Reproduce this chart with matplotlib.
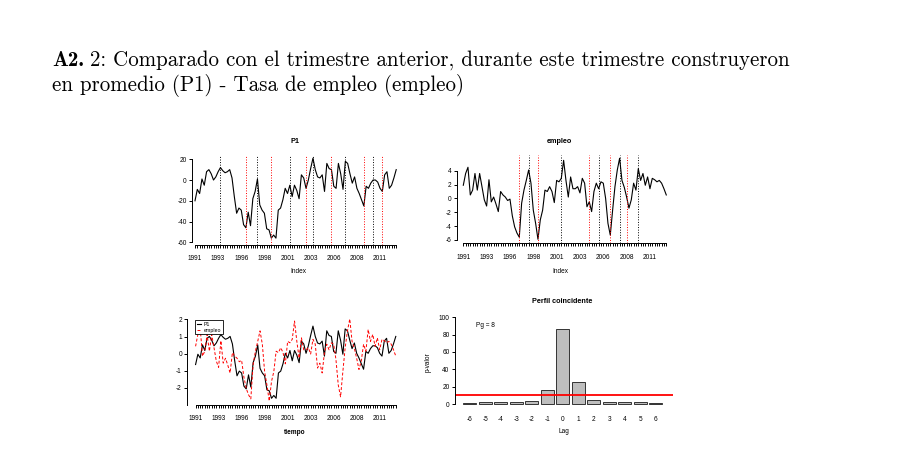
import numpy as np
import matplotlib
matplotlib.use("Agg")
import matplotlib.pyplot as plt

plt.rcParams['font.family'] = ['Liberation Sans', 'DejaVu Sans']
plt.rcParams['axes.unicode_minus'] = False

W, H = 898, 463

# Quarterly series, 1991Q1 - 2012Q4
p1 = [-20, -9, -13, 1, -5, 8, 10, 6, 0, 3,
      8, 12, 9, 7, 8, 10, 2, -16, -32, -27,
      -29, -43, -46, -31, -44, -18, -11, 1, -24, -29,
      -32, -47, -48, -56, -53, -56, -29, -27, -19, -8,
      -13, -5, -16, -5, -10, -18, 5, 2, -8, 0,
      11, 21, 10, 3, 2, 5, -11, 16, 11, 10,
      -6, -8, 16, 6, -9, 18, 16, 6, -3, 3,
      -8, -13, -19, -25, -6, -8, -3, 0, 0, -2,
      -8, -11, 5, 8, -8, -5, 2, 10]
empleo = [1.9, 3.6, 4.5, 0.5, 1.2, 3.6, 1.2, 3.6, 1.7, -0.2,
          -1.1, 2.7, -0.5, 0.2, -0.8, -1.9, 1.0, 0.5, 0.2, -0.3,
          -0.1, -2.5, -4.1, -5.0, -5.6, -0.7, 1.2, 2.6, 4.1, 2.2,
          -1.7, -3.6, -5.9, -3.1, -1.7, 1.2, 1.0, 1.7, 1.0, -0.6,
          2.6, 2.4, 2.9, 5.5, 2.6, 0.2, 3.1, 1.4, 1.4, 1.7,
          0.8, 2.9, 2.2, -1.2, -0.5, -1.9, 1.0, 2.2, 1.4, 2.4,
          2.2, 0.0, -3.6, -5.3, -1.7, 1.7, 4.1, 5.8, 2.6, 1.6,
          0.2, -1.4, -0.2, 2.2, 1.2, 4.3, 2.6, 3.6, 1.9, 3.1,
          1.4, 2.9, 2.7, 2.4, 2.6, 2.2, 1.4, 0.5]
year_labels = ['1991', '1993', '1996', '1998', '2001', '2003', '2006', '2008', '2011']

# turning points (quarter index): peaks black, troughs red
p1_peaks = [11, 27, 41, 51, 65, 77]
p1_troughs = [22, 33, 48, 59, 73, 81]
emp_peaks = [28, 42, 58, 67, 75]
emp_troughs = [24, 32, 54, 63, 70]

# coincident profile
lags = [-6, -5, -4, -3, -2, -1, 0, 1, 2, 3, 4, 5, 6]
pvalor = [1, 2, 2, 2, 4, 16, 86, 25, 5, 2, 2, 2, 1]

n = len(p1)
q = np.arange(n)
fs = 4.7

fig = plt.figure(figsize=(W / 100, H / 100), dpi=100)


def px_axes(l, t, r, b):
    return fig.add_axes([l / W, 1 - b / H, (r - l) / W, (b - t) / H])


def time_axis(ax):
    ax.set_xticks(q)
    labs = [''] * n
    for k, lab in enumerate(year_labels):
        labs[k * 10] = lab
    ax.set_xticklabels(labs)
    ax.spines['bottom'].set_bounds(0, n - 1)
    for s in ['top', 'right']:
        ax.spines[s].set_visible(False)
    ax.tick_params(axis='both', labelsize=fs, length=2.4, width=0.7, pad=1.5)
    ax.tick_params(axis='x', pad=5)
    for s in ['left', 'bottom']:
        ax.spines[s].set_linewidth(0.7)


# top-left: P1
ax1 = px_axes(192, 155, 402, 245)
ax1.plot(q, p1, color='black', lw=0.8)
for v in p1_peaks:
    ax1.axvline(v, color='black', ls=':', lw=0.7)
for v in p1_troughs:
    ax1.axvline(v, color='red', ls=':', lw=0.7)
ax1.set_xlim(-1.3, 89.5)
ax1.set_ylim(-62.6, 24.1)
ax1.set_yticks([-60, -40, -20, 0, 20])
ax1.spines['left'].set_bounds(-60, 20)
time_axis(ax1)
fig.text(295 / W, 1 - 141.7 / H, 'P1', ha='center', va='center', fontsize=5.2, fontweight='bold')
fig.text(298 / W, 1 - 271.7 / H, 'Index', ha='center', va='center', fontsize=fs)

# top-right: empleo
ax2 = px_axes(457, 155, 672, 243.3)
ax2.plot(q, empleo, color='black', lw=0.8)
for v in emp_peaks:
    ax2.axvline(v, color='black', ls=':', lw=0.7)
for v in emp_troughs:
    ax2.axvline(v, color='red', ls=':', lw=0.7)
ax2.set_xlim(-2.7, 89.45)
ax2.set_ylim(-6.48, 6.27)
ax2.set_yticks([-6, -4, -2, 0, 2, 4])
ax2.spines['left'].set_bounds(-6, 4)
time_axis(ax2)
fig.text(559 / W, 1 - 141.7 / H, 'empleo', ha='center', va='center', fontsize=5.2, fontweight='bold')
fig.text(560 / W, 1 - 271.7 / H, 'Index', ha='center', va='center', fontsize=fs)

# bottom-left: both series standardised
p1_arr = np.array(p1, dtype=float)
emp_arr = np.array(empleo, dtype=float)
p1_z = (p1_arr - p1_arr.mean()) / p1_arr.std(ddof=1)
emp_z = (emp_arr - emp_arr.mean()) / emp_arr.std(ddof=1)

ax3 = px_axes(187.3, 312, 402, 405)
ax3.plot(q, p1_z, color='black', lw=0.8, label='P1')
ax3.plot(q, emp_z, color='red', lw=0.7, ls=(0, (3, 2)), label='empleo')
ax3.set_xlim(-3.6, 89.7)
ax3.set_ylim(-3.02, 2.44)
ax3.set_yticks([-2, -1, 0, 1, 2])
time_axis(ax3)
ax3.spines['left'].set_bounds(-3.02, 2)
leg = ax3.legend(loc='upper left', bbox_to_anchor=(0.036, 0.914), borderaxespad=0,
                 fontsize=3.8, handlelength=0.8, handletextpad=0.5, borderpad=0.3,
                 labelspacing=0.2, fancybox=False, framealpha=1)
leg.get_frame().set_edgecolor('black')
leg.get_frame().set_linewidth(0.6)
fig.text(295 / W, 1 - 432.7 / H, 'tiempo', ha='center', va='center', fontsize=fs, fontweight='bold')

# bottom-right: coincident profile
ax4 = px_axes(455, 313.8, 673, 407.5)
ax4.bar(lags, pvalor, width=0.83, color='#BEBEBE', edgecolor='#333333', linewidth=0.7)
ax4.axhline(10, color='red', lw=1.3)
ax4.set_xlim(-6.94, 7.1)
ax4.set_ylim(-4, 104)
ax4.set_yticks([0, 20, 40, 60, 80, 100])
ax4.set_xticks(lags)
ax4.set_xticklabels([str(v) for v in lags])
for s in ['top', 'right', 'bottom']:
    ax4.spines[s].set_visible(False)
ax4.spines['left'].set_bounds(0, 100)
ax4.spines['left'].set_linewidth(0.7)
ax4.tick_params(axis='y', labelsize=fs, length=2.4, width=0.7, pad=1.5)
ax4.tick_params(axis='x', labelsize=fs, length=0, pad=6)
ax4.text(-5, 91, 'Pg = 8', ha='center', va='center', fontsize=fs)
fig.text(561.7 / W, 1 - 301.7 / H, 'Perfil coincidente', ha='center', va='center',
         fontsize=5.2, fontweight='bold')
fig.text(564 / W, 1 - 431.7 / H, 'Lag', ha='center', va='center', fontsize=fs)
fig.text(428.3 / W, 1 - 361.7 / H, 'p-valor', ha='center', va='center', fontsize=fs, rotation=90)

# header: bold label then roman text
hfs = 15.05
t_bold = fig.text(52 / W, 1 - 66 / H, 'A2.', ha='left', va='baseline', fontsize=hfs, family='cmb10')
renderer = fig.canvas.get_renderer()
bx = t_bold.get_window_extent(renderer).x1
fig.text((bx + 6) / W, 1 - 66 / H, '2: Comparado con el trimestre anterior, durante este trimestre construyeron',
         ha='left', va='baseline', fontsize=hfs, family='cmr10')
fig.text(52 / W, 1 - 91 / H, 'en promedio (P1) - Tasa de empleo (empleo)',
         ha='left', va='baseline', fontsize=hfs, family='cmr10')

fig.savefig('out.png', dpi=100)
